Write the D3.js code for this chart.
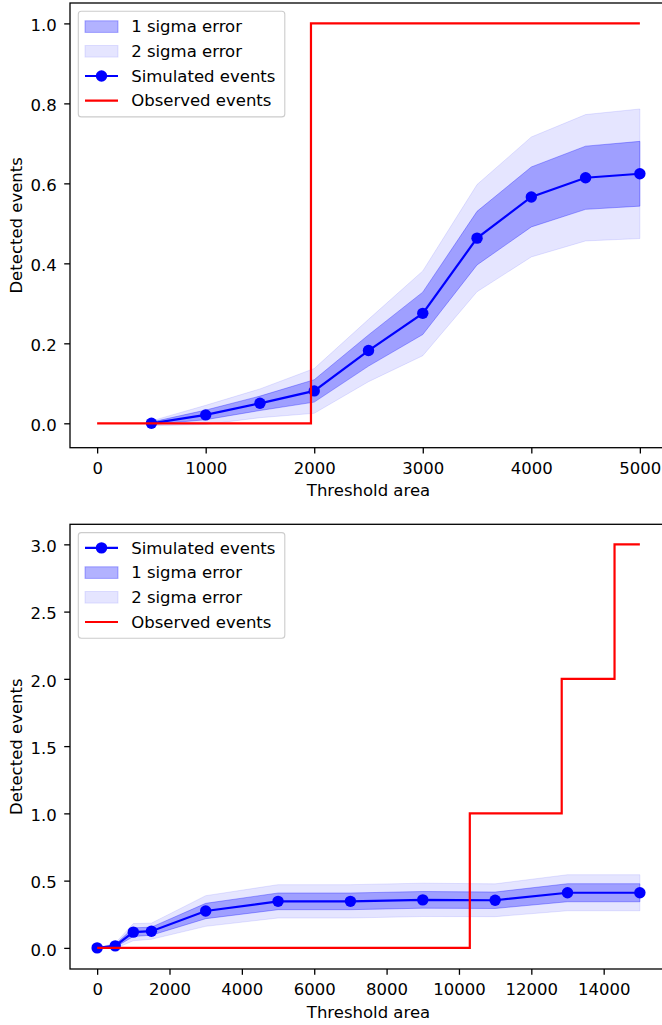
<!DOCTYPE html>
<html>
<head>
<meta charset="utf-8">
<script src="https://cdn.jsdelivr.net/npm/d3@7"></script>
<style>
  html, body { margin: 0; padding: 0; background: #fff; }
  svg { display: block; }
  text { font-family: "DejaVu Sans", sans-serif; fill: #000; }
</style>
</head>
<body>
<svg id="fig" width="662" height="1025"></svg>
<script>
// ---- Upper panel: threshold areas up to 5000 ----
const topArea = [500, 1000, 1500, 2000, 2500, 3000, 3500, 4000, 4500, 5000];
const topSimulated = [0.0, 0.021, 0.05, 0.081, 0.182, 0.275, 0.463, 0.566, 0.614, 0.624];
const topSigma = [0.003, 0.012, 0.018, 0.028, 0.039, 0.053, 0.067, 0.075, 0.079, 0.081];
const topObservedArea = [0, 1970, 5000];
const topObserved = [0, 1, 1];
const topXTicks = [0, 1000, 2000, 3000, 4000, 5000];
const topYTicks = [0, 0.2, 0.4, 0.6, 0.8, 1.0];
const topLegend = ["1 sigma error", "2 sigma error", "Simulated events", "Observed events"];

// ---- Lower panel: threshold areas up to 15000 ----
const bottomArea = [0, 500, 1000, 1500, 3000, 5000, 7000, 9000, 11000, 13000, 15000];
const bottomSimulated = [0, 0.015, 0.117, 0.124, 0.274, 0.346, 0.346, 0.357, 0.354, 0.41, 0.41];
const bottomSigma = [0, 0.01, 0.032, 0.03, 0.057, 0.062, 0.062, 0.062, 0.061, 0.067, 0.067];
const bottomObservedArea = [0, 10300, 12840, 14300, 15000];
const bottomObserved = [0, 1, 2, 3, 3];
const bottomXTicks = [0, 2000, 4000, 6000, 8000, 10000, 12000, 14000];
const bottomYTicks = [0, 0.5, 1.0, 1.5, 2.0, 2.5, 3.0];
const bottomLegend = ["Simulated events", "1 sigma error", "2 sigma error", "Observed events"];

const FONT = 16.5;
const BLUE = "#0000ff", RED = "#ff0000";
const MARKER_R = 5.7;
const svg = d3.select("#fig");

function panel(opt) {
  const { left, right, top, bottom } = opt.box;
  const x = d3.scaleLinear().domain(opt.xDomain).range([left, right]);
  const y = d3.scaleLinear().domain(opt.yDomain).range([bottom, top]);
  const g = svg.append("g");

  const rows = opt.area.map((a, i) => ({ a, m: opt.sim[i], s: opt.sigma[i] }));
  const band = k => d3.area().x(d => x(d.a)).y0(d => y(d.m - k * d.s)).y1(d => y(d.m + k * d.s));

  // uncertainty bands (mean ± 1σ and ± 2σ)
  g.append("path").datum(rows).attr("d", band(1))
    .attr("fill", BLUE).attr("fill-opacity", 0.3)
    .attr("stroke", BLUE).attr("stroke-opacity", 0.3).attr("stroke-width", 1);
  g.append("path").datum(rows).attr("d", band(2))
    .attr("fill", BLUE).attr("fill-opacity", 0.1)
    .attr("stroke", BLUE).attr("stroke-opacity", 0.1).attr("stroke-width", 1);

  // simulated mean with markers
  g.append("path").datum(rows)
    .attr("d", d3.line().x(d => x(d.a)).y(d => y(d.m)))
    .attr("fill", "none").attr("stroke", BLUE).attr("stroke-width", 2.2);
  g.selectAll("circle.pt").data(rows).join("circle").attr("class", "pt")
    .attr("cx", d => x(d.a)).attr("cy", d => y(d.m)).attr("r", MARKER_R).attr("fill", BLUE);

  // observed cumulative count as a step line
  const obs = opt.obsArea.map((a, i) => ({ a, v: opt.obs[i] }));
  g.append("path").datum(obs)
    .attr("d", d3.line().curve(d3.curveStepAfter).x(d => x(d.a)).y(d => y(d.v)))
    .attr("fill", "none").attr("stroke", RED).attr("stroke-width", 2.2);

  // axes
  const xAxis = g.append("g").attr("transform", `translate(0,${bottom})`)
    .call(d3.axisBottom(x).tickValues(opt.xTicks).tickFormat(d3.format("d"))
      .tickSize(5.8).tickPadding(7.5));
  const yAxis = g.append("g").attr("transform", `translate(${left},0)`)
    .call(d3.axisLeft(y).tickValues(opt.yTicks).tickFormat(d3.format(".1f"))
      .tickSize(5.8).tickPadding(7.5));
  [xAxis, yAxis].forEach(ax => {
    ax.select(".domain").remove();
    ax.selectAll(".tick line").attr("stroke", "#000").attr("stroke-width", 1.3);
    ax.selectAll(".tick text").attr("font-size", FONT).attr("fill", "#000")
      .style("font-family", "DejaVu Sans");
  });
  xAxis.selectAll(".tick text").attr("dy", "0.78em");
  yAxis.selectAll(".tick text").attr("dy", "0.44em");

  // frame
  g.append("rect").attr("x", left).attr("y", top)
    .attr("width", right - left).attr("height", bottom - top)
    .attr("fill", "none").attr("stroke", "#000").attr("stroke-width", 1.3);

  // axis titles
  g.append("text").attr("x", (left + right) / 2).attr("y", bottom + 48.5)
    .attr("text-anchor", "middle").attr("font-size", FONT).text("Threshold area");
  g.append("text")
    .attr("transform", `translate(21.5,${(top + bottom) / 2}) rotate(-90)`)
    .attr("text-anchor", "middle").attr("font-size", FONT).text("Detected events");

  // legend
  const lx = left + 8.3, ly = top + 8.3;
  const lg = g.append("g");
  lg.append("rect").attr("x", lx).attr("y", ly).attr("width", 206.5).attr("height", 105.6)
    .attr("rx", 3).attr("ry", 3)
    .attr("fill", "#fff").attr("fill-opacity", 0.8)
    .attr("stroke", "#cccccc").attr("stroke-width", 1.1);
  const hx0 = lx + 6.7, hx1 = hx0 + 33;
  const item = lg.selectAll("g.item").data(opt.legend).join("g").attr("class", "item")
    .attr("transform", (d, i) => `translate(0,${ly + 15.3 + i * 24.7})`);
  item.each(function (label) {
    const it = d3.select(this);
    if (label === "1 sigma error" || label === "2 sigma error") {
      const a = label[0] === "1" ? 0.3 : 0.1;
      it.append("rect").attr("x", hx0).attr("y", -5.8).attr("width", 33).attr("height", 11.6)
        .attr("fill", BLUE).attr("fill-opacity", a)
        .attr("stroke", BLUE).attr("stroke-opacity", a).attr("stroke-width", 1);
    } else if (label === "Simulated events") {
      it.append("line").attr("x1", hx0).attr("x2", hx1).attr("y1", 0).attr("y2", 0)
        .attr("stroke", BLUE).attr("stroke-width", 2.2);
      it.append("circle").attr("cx", (hx0 + hx1) / 2).attr("cy", 0).attr("r", MARKER_R).attr("fill", BLUE);
    } else {
      it.append("line").attr("x1", hx0).attr("x2", hx1).attr("y1", 0).attr("y2", 0)
        .attr("stroke", RED).attr("stroke-width", 2.2);
    }
    it.append("text").attr("x", hx1 + 13.2).attr("y", 0).attr("dy", "0.35em")
      .attr("font-size", FONT).text(label);
  });
}

panel({
  box: { left: 70, right: 667, top: 3, bottom: 447.7 },
  xDomain: [-250, 5250], yDomain: [-0.061, 1.051],
  area: topArea, sim: topSimulated, sigma: topSigma,
  obsArea: topObservedArea, obs: topObserved,
  xTicks: topXTicks, yTicks: topYTicks, legend: topLegend
});

panel({
  box: { left: 70, right: 667, top: 524.3, bottom: 969 },
  xDomain: [-750, 15750], yDomain: [-0.157, 3.149],
  area: bottomArea, sim: bottomSimulated, sigma: bottomSigma,
  obsArea: bottomObservedArea, obs: bottomObserved,
  xTicks: bottomXTicks, yTicks: bottomYTicks, legend: bottomLegend
});
</script>
</body>
</html>
